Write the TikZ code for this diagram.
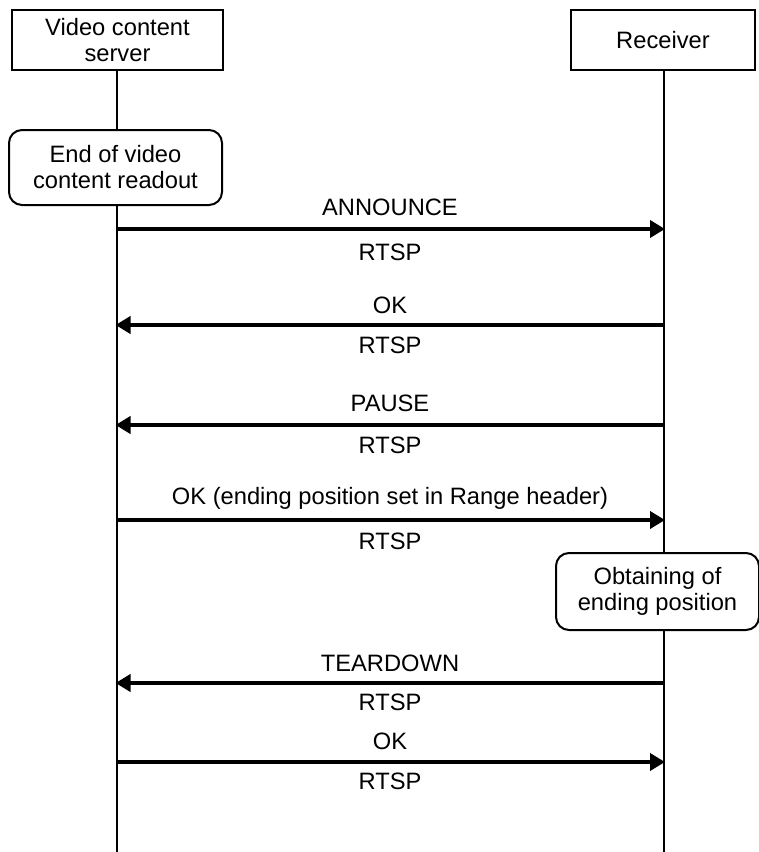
\documentclass[tikz,border=0pt]{standalone}
\usepackage{fontspec}
\setmainfont{Liberation Sans}
\usetikzlibrary{arrows.meta}
\begin{document}
\begin{tikzpicture}[x=1pt,y=-1pt,
  every node/.style={font=\fontsize{23.7}{26}\selectfont, align=center, inner sep=0pt},
  actor/.style={draw, line width=2pt, fill=white, minimum width=211pt, minimum height=60pt},
  actor2/.style={draw, line width=2pt, fill=white, minimum width=184pt, minimum height=60pt},
  event/.style={draw, line width=2pt, fill=white, rounded corners=13pt, minimum width=213pt, minimum height=75pt},
  event2/.style={draw, line width=2pt, fill=white, rounded corners=13pt, minimum width=203pt, minimum height=77pt},
  lifeline/.style={line width=2pt},
  msg/.style={line width=4.5pt, -{Triangle[length=15pt,width=17pt]}, shorten >=-1pt}]
\useasboundingbox (0,0) rectangle (759,852);

% lifelines
\coordinate (stop) at (116.5,70);
\coordinate (sbot) at (116.5,852);
\coordinate (rtop) at (664,70);
\coordinate (rbot) at (664,852);
\draw[lifeline] (stop) -- (sbot);
\draw[lifeline] (rtop) -- (rbot);

% participants
\node[actor]  (server)   at (117.5,40) {Video content\\server};
\node[actor2] (receiver) at (663,40) {Receiver};

% local events
\node[event]  (readout) at (115.5,167.5) {End of video\\content readout};
\node[event2] (obtain)  at (657.5,591.5) {Obtaining of\\ending position};

% message anchor points on the lifelines
\foreach \n/\y in {1/229, 2/325, 3/425, 4/520, 5/683, 6/762} {
  \coordinate (s\n) at (116.5,\y);
  \coordinate (r\n) at (664,\y);
}

% messages
\draw[msg] (s1) -- (r1);
\node (m1) at (390,207) {ANNOUNCE};
\node (p1) at (390,252) {RTSP};

\draw[msg] (r2) -- (s2);
\node (m2) at (390,305) {OK};
\node (p2) at (390,345) {RTSP};

\draw[msg] (r3) -- (s3);
\node (m3) at (390,403) {PAUSE};
\node (p3) at (390,445) {RTSP};

\draw[msg] (s4) -- (r4);
\node (m4) at (390,498) {OK (ending position set in Range header)};
\node (p4) at (390,541) {RTSP};

\draw[msg] (r5) -- (s5);
\node (m5) at (390,663) {TEARDOWN};
\node (p5) at (390,702) {RTSP};

\draw[msg] (s6) -- (r6);
\node (m6) at (390,741) {OK};
\node (p6) at (390,781) {RTSP};
\end{tikzpicture}
\end{document}
